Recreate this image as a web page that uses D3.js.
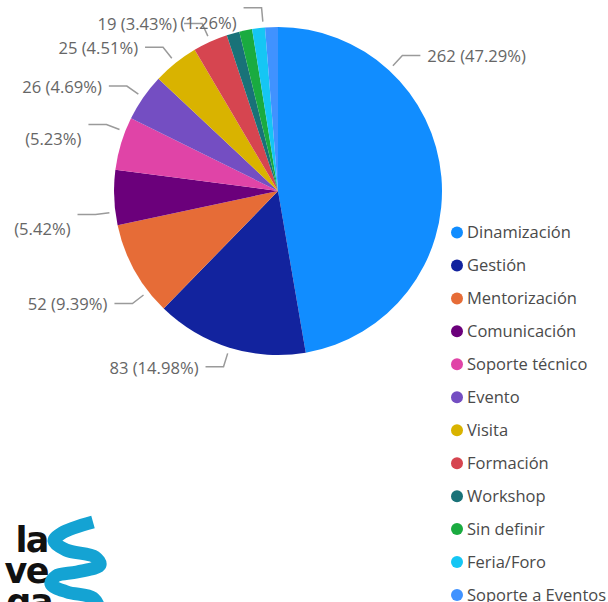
<!DOCTYPE html>
<html>
<head>
<meta charset="utf-8">
<script src="https://cdn.jsdelivr.net/npm/d3@7"></script>
<style>
  html, body { margin: 0; padding: 0; background: #fff; }
  svg { display: block; }
</style>
</head>
<body>
<div id="chart"></div>
<script>
// data (total 554)
var categories = ["Dinamización", "Gestión", "Mentorización", "Comunicación", "Soporte técnico",
  "Evento", "Visita", "Formación", "Workshop", "Sin definir", "Feria/Foro", "Soporte a Eventos"];
var values = [262, 83, 52, 30, 29, 26, 25, 19, 7, 7, 7, 7];
var colors = ["#118DFF", "#12239E", "#E66C37", "#6B007B", "#E044A7", "#744EC2",
  "#D9B300", "#D64550", "#197278", "#1AAB40", "#15C6F4", "#4092FF"];

// label layout: which slices get a label, nudge of leader angle (deg), wrapped (value line hidden)
var labelShown = [true, true, true, true, true, true, true, true, false, false, true, false];
var labelNudge = [-42.6, 0, -8.8, -5.1, 4.3, 0, 0, 0, 0, 0, 1.7, 0];
var labelWrapped = [false, false, false, true, true, false, false, false, false, false, true, false];

var W = 608, H = 602;
var cx = 278, cy = 191, R = 164;

var svg = d3.select("#chart").append("svg")
  .attr("width", W)
  .attr("height", H);

var total = d3.sum(values);
var pie = d3.pie().sort(null).value(function(d) { return d; });
var arcs = pie(values);
var arc = d3.arc().innerRadius(0).outerRadius(R);

var g = svg.append("g").attr("transform", "translate(" + cx + "," + cy + ")");

g.selectAll("path.slice")
  .data(arcs)
  .enter()
  .append("path")
  .attr("class", "slice")
  .attr("d", arc)
  .attr("fill", function(d, i) { return colors[i]; });

// labels with leader lines
var fmt = d3.format(".2%");
arcs.forEach(function(d, i) {
  if (!labelShown[i]) return;
  var a = (d.startAngle + d.endAngle) / 2 + labelNudge[i] * Math.PI / 180;
  var s = Math.sin(a), c = Math.cos(a);
  var p0 = [170 * s, -170 * c];
  var p1 = [184 * s, -184 * c];
  var dir = s >= 0 ? 1 : -1;
  var p2 = [p1[0] + dir * 18, p1[1]];
  g.append("path")
    .attr("d", d3.line()([p0, p1, p2]))
    .attr("fill", "none")
    .attr("stroke", "#9a9a9a")
    .attr("stroke-width", 1.5);
  var pct = "(" + fmt(values[i] / total) + ")";
  var txt = labelWrapped[i] ? pct : values[i] + " " + pct;
  g.append("text")
    .attr("x", p2[0] + dir * 7)
    .attr("y", p1[1] + (labelWrapped[i] ? 15 : 1))
    .attr("dy", "0.35em")
    .attr("text-anchor", dir > 0 ? "start" : "end")
    .attr("font-family", "'Open Sans', sans-serif")
    .attr("font-size", 16.6)
    .attr("fill", "#666")
    .text(txt);
});

// legend
var legY = d3.scalePoint().domain(categories).range([232.5, 595]);
var leg = svg.append("g").selectAll("g")
  .data(categories)
  .enter()
  .append("g")
  .attr("transform", function(d) { return "translate(457," + legY(d) + ")"; });
leg.append("circle")
  .attr("r", 6)
  .attr("fill", function(d, i) { return colors[i]; });
leg.append("text")
  .attr("x", 10)
  .attr("dy", "0.35em")
  .attr("font-family", "'Open Sans', sans-serif")
  .attr("font-size", 16.5)
  .attr("fill", "#4a4a4a")
  .text(function(d) { return d; });

// logo (bottom left, partly cut)
var logo = svg.append("g");
["la", "ve", "ga"].forEach(function(t, i) {
  logo.append("text")
    .attr("x", i == 2 ? 52 : 48)
    .attr("y", 552 + i * 31)
    .attr("text-anchor", "end")
    .attr("font-family", "'DejaVu Sans', sans-serif")
    .attr("font-weight", "bold")
    .attr("font-size", 35)
    .attr("letter-spacing", -1.5)
    .attr("fill", "#111")
    .text(t);
});
var wave = [[93, 522], [62, 533], [54, 541], [66, 550], [95, 557], [100, 565],
  [77, 572], [56, 576], [51, 584], [67, 592], [93, 598], [100, 610]];
logo.append("path")
  .attr("d", d3.line().curve(d3.curveCatmullRom)(wave))
  .attr("fill", "none")
  .attr("stroke", "#14A3D3")
  .attr("stroke-width", 13)
  .attr("stroke-linecap", "butt");
</script>
</body>
</html>
